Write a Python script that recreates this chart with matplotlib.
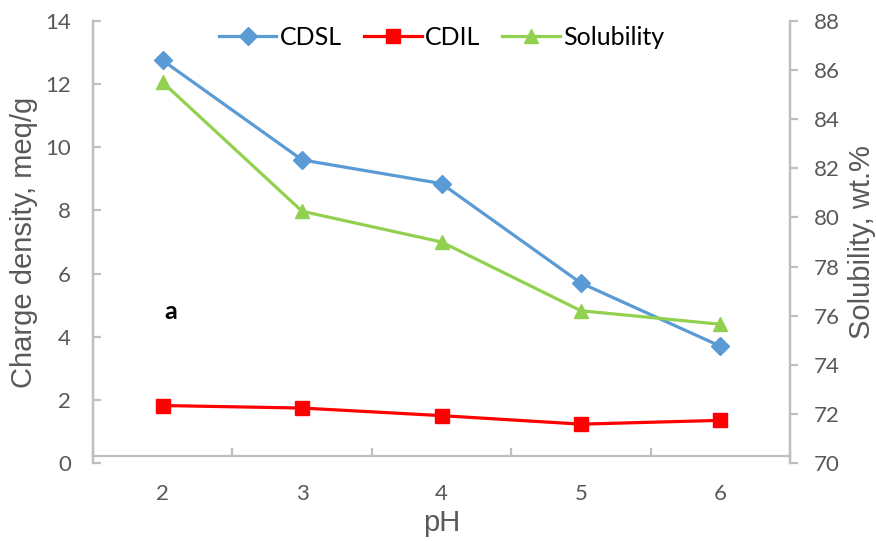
import matplotlib
matplotlib.use("Agg")
import matplotlib.pyplot as plt
from matplotlib.ticker import FixedLocator

ph = ["2", "3", "4", "5", "6"]
cdsl = [12.75, 9.6, 8.85, 5.7, 3.7]
cdil = [1.82, 1.74, 1.5, 1.23, 1.35]
solubility = [85.5, 80.25, 79.0, 76.2, 75.65]

GRAY = "#BFBFBF"
TXT = "#595959"
TITLE_FONT = ["Liberation Sans", "DejaVu Sans"]


def main():
    plt.rcParams["font.family"] = ["Lato", "DejaVu Sans"]
    fig = plt.figure(figsize=(8.76, 5.41), dpi=100)
    ax = fig.add_axes([0.1062, 0.1442, 0.7956, 0.817])
    ax2 = ax.twinx()

    x = list(range(len(ph)))
    l1, = ax.plot(x, cdsl, color="#5B9BD5", lw=2.3, marker="D", ms=9.5, label="CDSL")
    l2, = ax.plot(x, cdil, color="#FF0000", lw=2.3, marker="s", ms=10, label="CDIL")
    l3, = ax2.plot(x, solubility, color="#92D050", lw=2.3, marker="^", ms=10, label="Solubility")

    ax.set_xlim(-0.5, len(ph) - 0.5)
    ax.set_ylim(0, 14)
    ax2.set_ylim(70, 88)
    ax.set_yticks(range(0, 15, 2))
    ax2.set_yticks(range(70, 89, 2))
    ax.set_xticks(x)
    ax.set_xticklabels(ph)
    ax.xaxis.set_minor_locator(FixedLocator([i - 0.5 for i in range(len(ph) + 1)]))

    for a in (ax, ax2):
        for s in a.spines.values():
            s.set_color(GRAY)
            s.set_linewidth(1.6)
        a.spines["top"].set_visible(False)
    # excel draws the category axis line a bit above the value 0
    ax.spines["bottom"].set_position(("outward", -5))
    ax2.spines["bottom"].set_visible(False)

    ax.tick_params(axis="x", which="major", length=0, pad=20, labelsize=16, labelcolor=TXT)
    ax.tick_params(axis="x", which="minor", direction="in", length=6, color=GRAY, width=1.6)
    ax.tick_params(axis="y", direction="in", length=6, width=1.6, color=GRAY,
                   labelsize=16, labelcolor=TXT, pad=16)
    ax2.tick_params(axis="y", direction="out", length=6, width=1.6, color=GRAY,
                    labelsize=16, labelcolor=TXT, pad=11)

    ax.set_xlabel("pH", fontsize=21, color=TXT, labelpad=4, family=TITLE_FONT)
    ax.set_ylabel("Charge density, meq/g", fontsize=21, color=TXT, labelpad=5, family=TITLE_FONT)
    ax2.set_ylabel("Solubility, wt.%", fontsize=21, color=TXT, labelpad=6, family=TITLE_FONT)

    ax.text(0.06, 4.8, "a", fontsize=18, fontweight="bold", ha="center", va="center")

    ax2.legend(handles=[l1, l2, l3], loc="upper center", bbox_to_anchor=(0.5, 1.04),
               ncol=3, frameon=False, fontsize=18, handlelength=2.3,
               handletextpad=0.12, columnspacing=0.9)

    fig.savefig("out.png", dpi=100)


if __name__ == "__main__":
    main()
